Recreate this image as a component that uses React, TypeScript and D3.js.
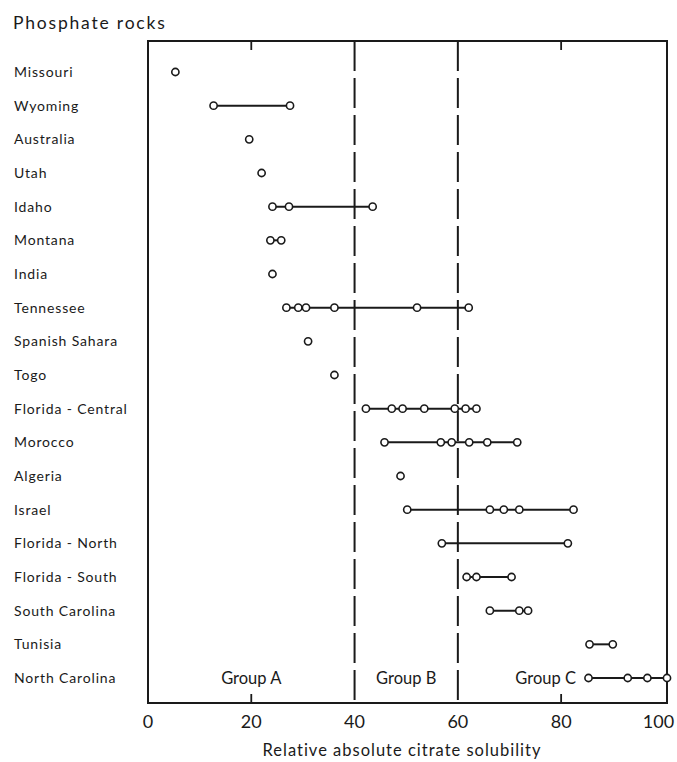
import React from "react";
import * as d3 from "d3";

const rocks = [
  "Missouri", "Wyoming", "Australia", "Utah", "Idaho", "Montana", "India",
  "Tennessee", "Spanish Sahara", "Togo", "Florida - Central", "Morocco",
  "Algeria", "Israel", "Florida - North", "Florida - South", "South Carolina",
  "Tunisia", "North Carolina",
];

const solubility: number[][] = [
  [5.3],
  [12.7, 27.5],
  [19.6],
  [22.0],
  [24.1, 27.3, 43.5],
  [23.7, 25.8],
  [24.1],
  [26.8, 29.1, 30.6, 36.1, 52.1, 62.1],
  [31.0],
  [36.1],
  [42.2, 47.2, 49.3, 53.5, 59.4, 61.5, 63.6],
  [45.8, 56.7, 58.8, 62.2, 65.7, 71.5],
  [48.9],
  [50.2, 66.2, 68.9, 71.9, 82.4],
  [56.9, 81.3],
  [61.7, 63.6, 70.4],
  [66.2, 71.9, 73.6],
  [85.5, 90.0],
  [85.3, 92.9, 96.7, 100.5],
];

const tickValues = [0, 20, 40, 60, 80, 100];
const minorTicks = [20, 80];
const groupBounds = [40, 60];
const groupNames = ["Group A", "Group B", "Group C"];
const groupCenters = [20, 50, 77];

const W = 677;
const H = 762;
const left = 148;
const right = 667;
const top = 41;
const bottom = 703;

export default function App() {
  const x = d3.scaleLinear().domain([0, 100.5]).range([left, right]);
  const y = d3.scalePoint<string>().domain(rocks).range([72, 678]);
  const font = "Lato, 'Open Sans', sans-serif";
  const ink = "#1a1a1a";

  return (
    <svg
      width={W}
      height={H}
      style={{ position: "absolute", left: 0, top: 0, background: "#fff" }}
      fontFamily={font}
    >
      <rect width={W} height={H} fill="#fff" />
      <text x={13} y={29} fontSize={17.5} letterSpacing={1.8} fill={ink}>
        Phosphate rocks
      </text>

      {/* frame */}
      <rect
        x={left}
        y={top}
        width={right - left}
        height={bottom - top}
        fill="none"
        stroke={ink}
        strokeWidth={2}
      />

      {/* tick marks top and bottom */}
      {minorTicks.map((t) => (
        <g key={"t" + t}>
          <line x1={x(t)} x2={x(t)} y1={top} y2={top + 9} stroke={ink} strokeWidth={1.8} />
          <line x1={x(t)} x2={x(t)} y1={bottom} y2={bottom - 9} stroke={ink} strokeWidth={1.8} />
        </g>
      ))}

      {/* group boundaries */}
      {groupBounds.map((b) => (
        <line
          key={"b" + b}
          x1={x(b)}
          x2={x(b)}
          y1={top}
          y2={bottom}
          stroke={ink}
          strokeWidth={2}
          strokeDasharray="30 7"
        />
      ))}

      {/* tick labels */}
      {tickValues.map((t) => (
        <text
          key={"l" + t}
          x={t === 100 ? x(t) - 6 : x(t)}
          y={728}
          fontSize={18}
          textAnchor="middle"
          fill={ink}
        >
          {t}
        </text>
      ))}

      <text
        x={402}
        y={756}
        fontSize={16.5}
        letterSpacing={1}
        textAnchor="middle"
        fill={ink}
      >
        Relative absolute citrate solubility
      </text>

      {/* row labels */}
      {rocks.map((r) => (
        <text
          key={"r" + r}
          x={14}
          y={(y(r) ?? 0) + 5}
          fontSize={14}
          letterSpacing={0.85}
          fill={ink}
        >
          {r}
        </text>
      ))}

      {/* group labels */}
      {groupNames.map((g, i) => (
        <text
          key={g}
          x={x(groupCenters[i])}
          y={(y("North Carolina") ?? 0) + 6}
          fontSize={16.5}
          textAnchor="middle"
          fill={ink}
        >
          {g}
        </text>
      ))}

      {/* ranges and points */}
      {rocks.map((r, i) => {
        const vals = solubility[i];
        const yy = y(r) ?? 0;
        const lo = d3.min(vals) ?? 0;
        const hi = d3.max(vals) ?? 0;
        return (
          <g key={"p" + r}>
            {vals.length > 1 && (
              <line x1={x(lo)} x2={x(hi)} y1={yy} y2={yy} stroke={ink} strokeWidth={2} />
            )}
            {vals.map((v, j) => (
              <circle
                key={j}
                cx={x(v)}
                cy={yy}
                r={3.6}
                fill="#fff"
                stroke={ink}
                strokeWidth={1.6}
              />
            ))}
          </g>
        );
      })}
    </svg>
  );
}
